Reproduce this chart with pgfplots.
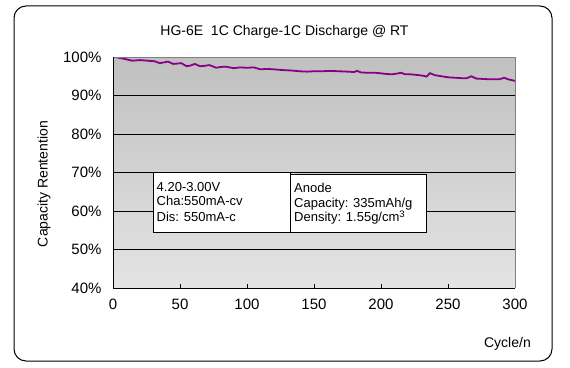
\documentclass[border=0pt]{standalone}
\usepackage{pgfplots}
\pgfplotsset{compat=1.18}
\usepackage{fontspec}
\setmainfont{Liberation Sans}
\definecolor{lc}{RGB}{136,0,136}
\definecolor{bgtop}{RGB}{192,192,192}
\definecolor{bgbot}{RGB}{228,228,228}
\begin{document}
\begin{tikzpicture}[x=1bp,y=1bp]
\path (0,0) rectangle (570,367);
\draw[line width=1bp, rounded corners=12bp] (14,6) rectangle (552,361);
\begin{axis}[
  at={(113bp,79bp)}, anchor=south west,
  scale only axis, width=402bp, height=231bp,
  xmin=0, xmax=300, ymin=40, ymax=100,
  xtick={0,50,...,300}, ytick={40,50,...,100},
  yticklabel={\pgfmathprintnumber{\tick}\%},
  /pgf/number format/assume math mode=true,
  ticklabel style={font=\fontsize{15bp}{17bp}\selectfont},
  yticklabel style={xshift=-8bp},
  xticklabel style={yshift=-8bp},
  xtick pos=left, tick align=inside, major tick length=4bp,
  xtick style={black, line width=0.8bp},
  ytick style={draw=none},
  ymajorgrids, major grid style={black, line width=0.8bp},
  axis line style={draw=none},
  axis background/.style={shade, top color=bgtop, bottom color=bgbot},
]
\addplot[color=lc, line width=1.8bp, mark=none] coordinates {
(0,100.0) (3,99.9) (6,99.7) (10,99.4) (14,99.05) (17,99.1) (20,99.2) (24,99.1)
(27,99.0) (31,98.9) (35,98.4) (38,98.6) (41,98.8) (45,98.2) (48,98.3) (51,98.4)
(55,97.6) (58,97.8) (61,98.2) (65,97.6) (68,97.7) (72,97.9) (75,97.5) (77,97.2)
(80,97.4) (84,97.5) (87,97.3) (90,97.1) (95,97.3) (100,97.2) (105,97.3) (108,97.0)
(110,96.8) (115,96.9) (120,96.8) (127,96.6) (133,96.5) (139,96.3) (145,96.2) (150,96.3)
(156,96.3) (162,96.4) (168,96.3) (175,96.2) (180,96.1) (182,96.4) (185,96.0) (190,95.9)
(196,95.9) (204,95.6) (208,95.5) (212,95.7) (215,95.9) (218,95.5) (222,95.5) (228,95.3)
(232,95.1) (234,94.9) (236.5,95.8) (240,95.3) (245,95.0) (251,94.7) (256,94.6) (260,94.5)
(264,94.5) (267.5,95.0) (271,94.4) (276,94.3) (282,94.2) (288,94.2) (292,94.6) (295,94.2)
(300,93.8)
};
\end{axis}
\draw[gray, line width=1bp] (113,310) -- (515,310) -- (515,79);
\draw[black, line width=1bp] (113,310) -- (113,79) -- (515,79);
% boxes
\draw[black, fill=white, line width=0.8bp] (153,134.7) rectangle (290.7,194.7);
\draw[black, fill=white, line width=0.8bp] (290.7,134.7) rectangle (426.7,192.7);
\begin{scope}[every node/.style={font=\fontsize{13bp}{15bp}\selectfont, inner sep=0pt, anchor=base west}]
\node at (156.5,175.3) {4.20-3.00V};
\node at (156.5,161.3) {Cha:550mA-cv};
\node at (156.5,146.0) {Dis: 550mA-c};
\node at (294,174.7) {Anode};
\node at (294,159.3) {Capacity: 335mAh/g};
\node at (294,145.3) {Density: 1.55g/cm\raisebox{4.5bp}{\fontsize{9.5bp}{10bp}\selectfont 3}};
\end{scope}
\node[font=\fontsize{14bp}{16bp}\selectfont, anchor=base, inner sep=0pt] at (284.5,332) {HG-6E\ \ 1C Charge-1C Discharge @ RT};
\node[font=\fontsize{14bp}{16bp}\selectfont, anchor=base east, inner sep=0pt] at (531,20) {Cycle/n};
\node[font=\fontsize{14bp}{16bp}\selectfont, rotate=90, inner sep=0pt] at (44,183) {Capacity Rentention};
\end{tikzpicture}
\end{document}
